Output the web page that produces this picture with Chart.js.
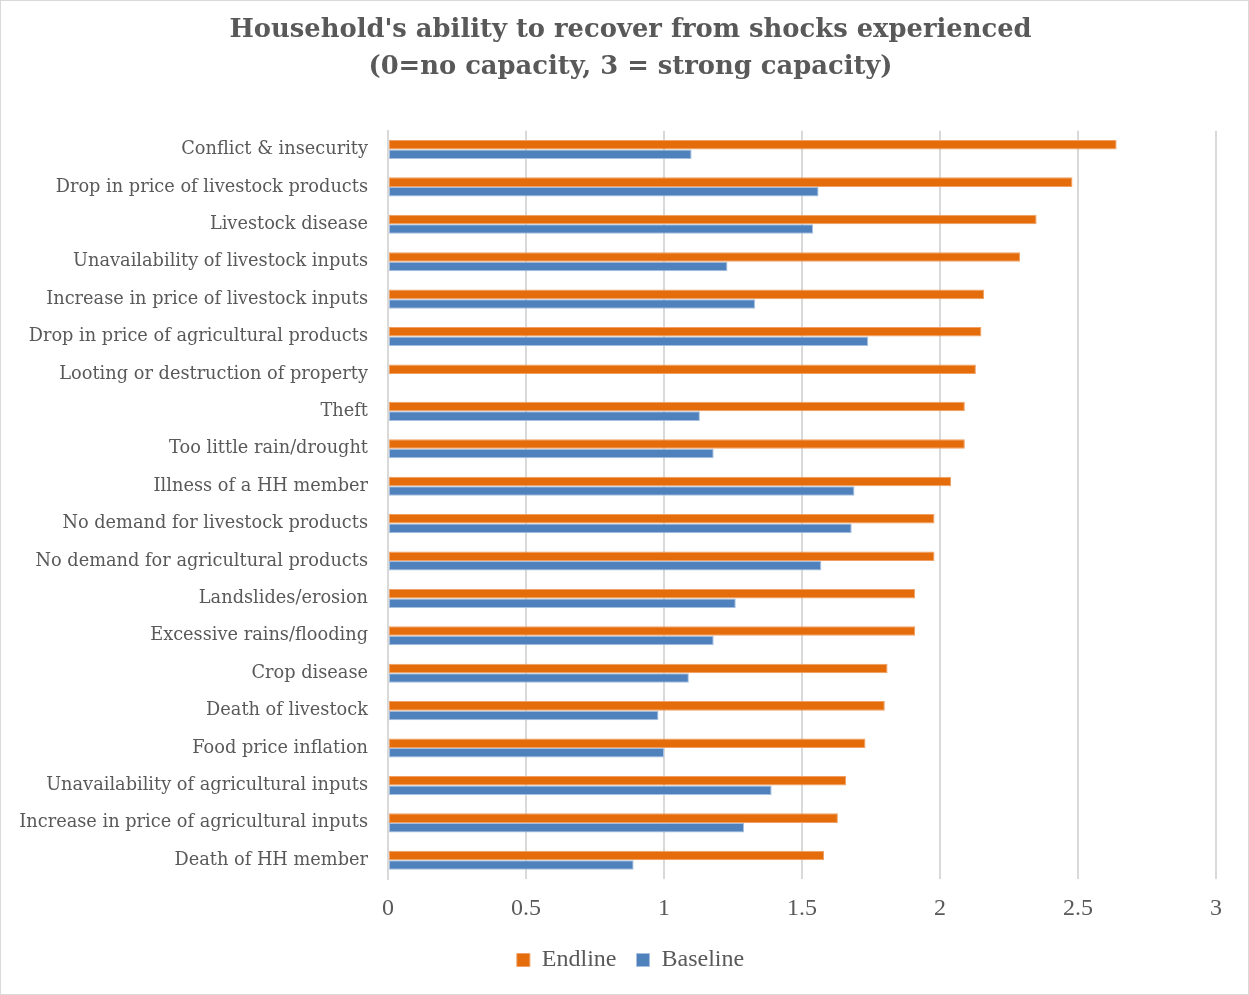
<!DOCTYPE html>
<html>
<head>
<meta charset="utf-8">
<script src="https://cdn.jsdelivr.net/npm/chart.js@4.4.1/dist/chart.umd.min.js"></script>
<style>
  html, body { margin: 0; padding: 0; background: #fff; }
  #wrap { position: relative; width: 1247px; height: 993px; border: 1px solid #d9d9d9; }
</style>
</head>
<body>
<div id="wrap"><canvas id="shocksChart"></canvas></div>
<script>
const shocks = [
  "Conflict & insecurity",
  "Drop in price of livestock products",
  "Livestock disease",
  "Unavailability of livestock inputs",
  "Increase in price of livestock inputs",
  "Drop in price of agricultural products",
  "Looting or destruction of property",
  "Theft",
  "Too little rain/drought",
  "Illness of a HH member",
  "No demand for livestock products",
  "No demand for agricultural products",
  "Landslides/erosion",
  "Excessive rains/flooding",
  "Crop disease",
  "Death of livestock",
  "Food price inflation",
  "Unavailability of agricultural inputs",
  "Increase in price of agricultural inputs",
  "Death of HH member"
];

const endline = [2.64, 2.48, 2.35, 2.29, 2.16, 2.15, 2.13, 2.09, 2.09, 2.04,
                 1.98, 1.98, 1.91, 1.91, 1.81, 1.80, 1.73, 1.66, 1.63, 1.58];

const baseline = [1.10, 1.56, 1.54, 1.23, 1.33, 1.74, null, 1.13, 1.18, 1.69,
                  1.68, 1.57, 1.26, 1.18, 1.09, 0.98, 1.00, 1.39, 1.29, 0.89];

const xTicks = [0, 0.5, 1, 1.5, 2, 2.5, 3];

const textGrey = "#595959";
const labelFont = "'DejaVu Serif', serif";
const numFont = "'Liberation Serif', 'Times New Roman', serif";
Chart.defaults.font.family = numFont;
Chart.defaults.color = textGrey;

new Chart(document.getElementById("shocksChart"), {
  type: "bar",
  data: {
    labels: shocks,
    datasets: [{
      label: "Endline",
      data: endline,
      backgroundColor: "#e46c0a",
      borderColor: "#f0a062",
      borderWidth: 1,
      borderSkipped: false
    }, {
      label: "Baseline",
      data: baseline,
      backgroundColor: "#4f81bd",
      borderColor: "#a7c0e0",
      borderWidth: 1,
      borderSkipped: false
    }]
  },
  options: {
    indexAxis: "y",
    responsive: true,
    maintainAspectRatio: false,
    animation: false,
    barPercentage: 1,
    categoryPercentage: 0.51,
    layout: { padding: { left: 12, right: 0, top: 3, bottom: 12 } },
    scales: {
      x: {
        min: 0,
        max: 3,
        afterBuildTicks: (axis) => {
          axis.ticks = xTicks.map(v => ({ value: v }));
        },
        afterFit: (axis) => { axis.height = 49; },
        grid: { color: "#d9d9d9", lineWidth: 2, drawTicks: false },
        border: { display: false },
        ticks: {
          padding: 15,
          font: { size: 24 },
          color: textGrey,
          callback: (v) => String(v)
        }
      },
      y: {
        afterFit: (axis) => { axis.width = 375; },
        grid: { display: false, drawTicks: false },
        border: { color: "#d9d9d9", width: 2 },
        ticks: {
          padding: 20,
          font: { family: labelFont, size: 17.75 },
          color: textGrey,
          autoSkip: false
        }
      },
      // empty right-hand margin so the legend stays centred on the whole canvas
      spacer: {
        type: "category",
        position: "right",
        afterFit: (axis) => { axis.width = 32; },
        grid: { display: false, drawTicks: false },
        border: { display: false },
        ticks: { display: false }
      }
    },
    plugins: {
      title: {
        display: true,
        text: ["Household's ability to recover from shocks experienced",
               "(0=no capacity, 3 = strong capacity)"],
        color: textGrey,
        font: { family: labelFont, size: 25.8, weight: "bold", lineHeight: 1.43 },
        padding: { top: 8, bottom: 45 }
      },
      legend: {
        position: "bottom",
        labels: {
          boxWidth: 13,
          boxHeight: 13,
          padding: 20,
          font: { size: 24 },
          color: textGrey
        }
      },
      tooltip: { enabled: false }
    }
  }
});
</script>
</body>
</html>
